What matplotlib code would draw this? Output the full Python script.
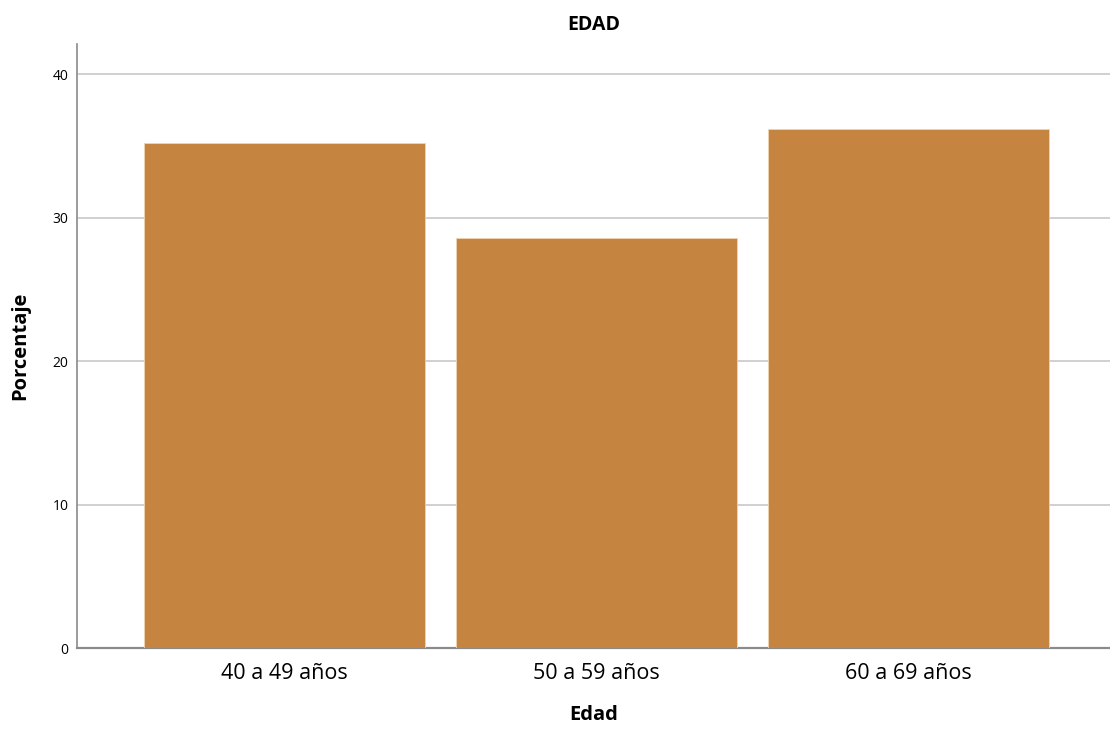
import matplotlib
matplotlib.use("Agg")
import matplotlib.pyplot as plt
import numpy as np

# Datos
categorias = ["40 a 49 años", "50 a 59 años", "60 a 69 años"]
porcentajes = [35.2, 28.6, 36.2]
yticks = [0, 10, 20, 30, 40]

plt.rcParams["font.family"] = ["Open Sans", "DejaVu Sans"]

fig = plt.figure(figsize=(11.1, 7.3), dpi=100)
ax = fig.add_axes([0.0694, 0.1123, 0.9306, 0.8274])

x = np.arange(len(categorias))
ax.bar(x, porcentajes, width=0.9, color="#C58541", edgecolor="#F0D3B0",
       linewidth=0.6, zorder=3)

ax.set_xlim(-0.665, 2.646)
ax.set_ylim(0, 42.1)
ax.set_yticks(yticks)
ax.set_xticks(x)
ax.set_xticklabels(categorias, fontsize=15.5)
ax.tick_params(axis="y", labelsize=10, length=0, pad=6)
ax.tick_params(axis="x", length=0, pad=11)

ax.yaxis.grid(True, color="#C8C8C8", linewidth=1.2, zorder=0)
ax.set_axisbelow(True)

for side in ["top", "right"]:
    ax.spines[side].set_visible(False)
ax.spines["left"].set_color("#8A8A8A")
ax.spines["left"].set_linewidth(1.2)
ax.spines["bottom"].set_color("#8A8A8A")
ax.spines["bottom"].set_linewidth(1.6)

ax.set_title("EDAD", fontsize=14, fontweight="bold", pad=10)
ax.set_xlabel("Edad", fontsize=14.5, fontweight="bold", labelpad=15)
ax.set_ylabel("Porcentaje", fontsize=14.5, fontweight="bold", labelpad=16)

fig.savefig("out.png", dpi=100)
